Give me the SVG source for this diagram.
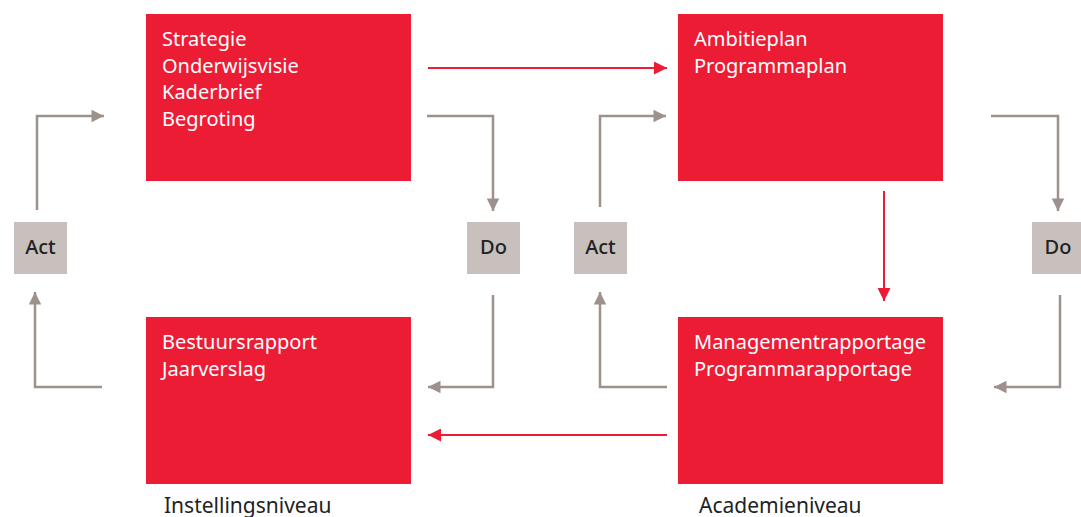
<svg xmlns="http://www.w3.org/2000/svg" width="1081" height="517" viewBox="0 0 1081 517">
<style>
.box{fill:#ec1c35}
.pdca{fill:#c8c0bc}
.bt{font-family:"Noto Sans","Open Sans",sans-serif;font-size:20px;fill:#ffffff}
.lt{font-family:"Noto Sans","Open Sans",sans-serif;font-size:20px;font-weight:500;fill:#222222;text-anchor:middle}
.ft{font-family:"Noto Sans","Open Sans",sans-serif;font-size:21px;fill:#222222}
.g{fill:none;stroke:#9d918c;stroke-width:2.5}
.r{fill:none;stroke:#ec1c35;stroke-width:2}
</style>
<defs>
<marker id="ag" viewBox="0 0 10 10" refX="10" refY="5" markerWidth="6" markerHeight="5" markerUnits="strokeWidth" orient="auto"><path d="M0,0 L10,5 L0,10 z" fill="#9d918c"/></marker>
<marker id="ar" viewBox="0 0 10 10" refX="10" refY="5" markerWidth="8" markerHeight="6.5" markerUnits="strokeWidth" orient="auto"><path d="M0,0 L10,5 L0,10 z" fill="#ec1c35"/></marker>
</defs>
<g id="strategie">
<rect class="box" x="146" y="14" width="265" height="167"/>
<text class="bt" x="162" y="46">Strategie</text>
<text class="bt" x="162" y="72.5">Onderwijsvisie</text>
<text class="bt" x="162" y="99">Kaderbrief</text>
<text class="bt" x="162" y="125.5">Begroting</text>
</g>
<g id="ambitieplan">
<rect class="box" x="678" y="14" width="265" height="167"/>
<text class="bt" x="694" y="46">Ambitieplan</text>
<text class="bt" x="694" y="72.5">Programmaplan</text>
</g>
<g id="bestuursrapport">
<rect class="box" x="146" y="317" width="265" height="167"/>
<text class="bt" x="162" y="349">Bestuursrapport</text>
<text class="bt" x="162" y="375.5">Jaarverslag</text>
</g>
<g id="managementrapportage">
<rect class="box" x="678" y="317" width="265" height="167"/>
<text class="bt" x="694" y="349">Managementrapportage</text>
<text class="bt" x="694" y="375.5">Programmarapportage</text>
</g>
<g id="act1"><rect class="pdca" x="14" y="222" width="53" height="52"/><text class="lt" x="40.5" y="254">Act</text></g>
<g id="do1"><rect class="pdca" x="467" y="222" width="53" height="52"/><text class="lt" x="493.5" y="254">Do</text></g>
<g id="act2"><rect class="pdca" x="574" y="222" width="53" height="52"/><text class="lt" x="600.5" y="254">Act</text></g>
<g id="do2"><rect class="pdca" x="1032" y="222" width="53" height="52"/><text class="lt" x="1058" y="254">Do</text></g>
<g id="labels">
<text class="ft" x="164" y="513">Instellingsniveau</text>
<text class="ft" x="699" y="513">Academieniveau</text>
</g>
<g id="connectors">
<path class="g" d="M37,210 V116 H104" marker-end="url(#ag)"/>
<path class="g" d="M427,116 H493 V211" marker-end="url(#ag)"/>
<path class="g" d="M493,295 V387 H428" marker-end="url(#ag)"/>
<path class="g" d="M102,387 H35 V292" marker-end="url(#ag)"/>
<path class="g" d="M600,207 V116 H666" marker-end="url(#ag)"/>
<path class="g" d="M991,116 H1058 V211" marker-end="url(#ag)"/>
<path class="g" d="M1060,295 V387 H994" marker-end="url(#ag)"/>
<path class="g" d="M667,387 H600 V292" marker-end="url(#ag)"/>
<path class="r" d="M428,68 H667" marker-end="url(#ar)"/>
<path class="r" d="M884,191 V301" marker-end="url(#ar)"/>
<path class="r" d="M667,435 H428" marker-end="url(#ar)"/>
</g>
</svg>
